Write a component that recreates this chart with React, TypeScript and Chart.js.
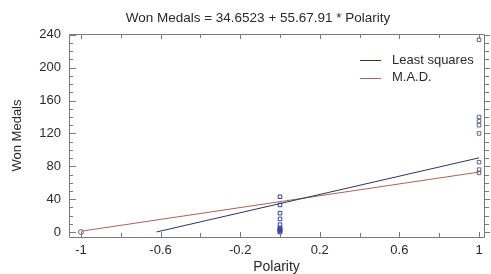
import React, { useEffect, useRef } from "react";
import { Chart, registerables } from "chart.js";

Chart.register(...registerables);

const titleText = "Won Medals = 34.6523 + 55.67.91 * Polarity";
const xAxisTitle = "Polarity";
const yAxisTitle = "Won Medals";
const xTickValues = [-1, -0.6, -0.2, 0.2, 0.6, 1];
const yTickValues = [0, 40, 80, 120, 160, 200, 240];

const obsAtMinusOneY = [0];
const obsAtZeroY = [0, 1, 2, 3, 4, 5, 9, 16, 23, 33, 43];
const obsAtOneY = [72, 76, 85, 120, 130, 135, 140, 234];

const leastSquaresX = [-0.62, 1];
const leastSquaresY = [0.13, 90.3];
const madX = [-1, 1];
const madY = [1, 73];

const legendLabels = ["Least squares", "M.A.D."];
const lsColor = "#2e3160";
const madColor = "#a8645c";
const frameColor = "#7a7a7a";
const textColor = "#2a2a2a";
const FONT = "'Liberation Sans', Arial, sans-serif";

const framePlugin = {
  id: "framePlugin",
  afterDraw(chart: any) {
    const { ctx, chartArea, scales } = chart;
    const { left, right, top, bottom } = chartArea;
    const xs = scales.x;
    const ys = scales.y;
    ctx.save();
    ctx.strokeStyle = frameColor;
    ctx.lineWidth = 1;
    ctx.beginPath();
    ctx.rect(Math.round(left) + 0.5, Math.round(top) + 0.5, Math.round(right - left), Math.round(bottom - top));
    ctx.stroke();
    ctx.beginPath();
    for (let i = 0; i <= 10; i++) {
      const v = -1 + i * 0.2;
      const px = Math.round(xs.getPixelForValue(v)) + 0.5;
      const major = i % 2 === 0;
      const len = major ? 5 : 4;
      ctx.moveTo(px, bottom);
      ctx.lineTo(px, bottom - len);
      ctx.moveTo(px, top);
      ctx.lineTo(px, top + len);
    }
    for (let v = 0; v <= 240; v += 10) {
      const py = Math.round(ys.getPixelForValue(v)) + 0.5;
      const major = v % 40 === 0;
      const len = major ? 7 : 4;
      ctx.moveTo(left, py);
      ctx.lineTo(left + len, py);
      ctx.moveTo(right, py);
      ctx.lineTo(right + (major ? 6 : 5), py);
    }
    ctx.stroke();

    // title
    ctx.fillStyle = textColor;
    ctx.font = `13.5px ${FONT}`;
    ctx.textAlign = "center";
    ctx.textBaseline = "middle";
    ctx.fillText(titleText, 258, 18);

    // legend
    const colors = [lsColor, madColor];
    ctx.textAlign = "left";
    ctx.font = `13px ${FONT}`;
    legendLabels.forEach((lab, i) => {
      const y = 60 + i * 17.5;
      ctx.strokeStyle = colors[i];
      ctx.beginPath();
      ctx.moveTo(360, Math.round(y) + 0.5);
      ctx.lineTo(381, Math.round(y) + 0.5);
      ctx.stroke();
      ctx.fillStyle = textColor;
      ctx.fillText(lab, 392, y);
    });
    ctx.restore();
  },
};

export default function App() {
  const ref = useRef<HTMLCanvasElement | null>(null);
  useEffect(() => {
    document.body.style.margin = "0";
    const canvas = ref.current;
    if (!canvas) return;
    const chart = new Chart(canvas, {
      type: "scatter",
      data: {
        datasets: [
          {
            label: legendLabels[0],
            type: "line",
            data: leastSquaresX.map((x, i) => ({ x, y: leastSquaresY[i] })),
            borderColor: lsColor,
            borderWidth: 1,
            pointRadius: 0,
            fill: false,
          },
          {
            label: legendLabels[1],
            type: "line",
            data: madX.map((x, i) => ({ x, y: madY[i] })),
            borderColor: madColor,
            borderWidth: 1,
            pointRadius: 0,
            fill: false,
          },
          {
            label: "obs -1",
            data: obsAtMinusOneY.map((y) => ({ x: -1, y })),
            pointStyle: "circle",
            pointRadius: 2.5,
            borderColor: "#6a6a6a",
            backgroundColor: "rgba(0,0,0,0)",
            borderWidth: 1,
          },
          {
            label: "obs 0",
            data: obsAtZeroY.map((y) => ({ x: 0, y })),
            pointStyle: "rect",
            pointRadius: 2.5,
            borderColor: "#3340a8",
            backgroundColor: "rgba(0,0,0,0)",
            borderWidth: 1,
          },
          {
            label: "obs 1",
            data: obsAtOneY.map((y) => ({ x: 1, y })),
            pointStyle: "rect",
            pointRadius: 2.5,
            borderColor: "#5e6688",
            backgroundColor: "rgba(0,0,0,0)",
            borderWidth: 1,
          },
        ],
      },
      options: {
        animation: false,
        responsive: false,
        maintainAspectRatio: false,
        layout: { padding: { top: 34, right: 7, left: 0, bottom: 0 } },
        plugins: {
          legend: { display: false },
          tooltip: { enabled: false },
          title: { display: false },
        },
        scales: {
          x: {
            type: "linear",
            min: -1.06,
            max: 1.025,
            grid: { display: false, drawTicks: false },
            border: { display: false },
            afterBuildTicks: (scale: any) => {
              scale.ticks = xTickValues.map((v) => ({ value: v }));
            },
            afterFit: (scale: any) => {
              scale.height = 37;
            },
            ticks: {
              padding: 6,
              color: textColor,
              font: { family: FONT, size: 13 },
              maxRotation: 0,
              autoSkip: false,
              callback: (v: any) => String(Math.round(Number(v) * 10) / 10),
            },
            title: {
              display: true,
              text: xAxisTitle,
              color: textColor,
              font: { family: FONT, size: 14 },
              padding: { top: 0, bottom: -1.5 },
            },
          },
          y: {
            type: "linear",
            min: -6,
            max: 241,
            grid: { display: false, drawTicks: false },
            border: { display: false },
            afterBuildTicks: (scale: any) => {
              scale.ticks = yTickValues.map((v) => ({ value: v }));
            },
            afterFit: (scale: any) => {
              scale.width = 69;
            },
            ticks: {
              padding: 8,
              color: textColor,
              font: { family: FONT, size: 13 },
              autoSkip: false,
            },
            title: {
              display: true,
              text: yAxisTitle,
              color: textColor,
              font: { family: FONT, size: 13 },
              padding: { top: 10, bottom: 0 },
            },
          },
        },
      },
      plugins: [framePlugin],
    } as any);
    return () => chart.destroy();
  }, []);
  return (
    <div style={{ width: 491, height: 274, background: "#fff" }}>
      <canvas ref={ref} width={491} height={274} style={{ width: 491, height: 274, display: "block" }} />
    </div>
  );
}
